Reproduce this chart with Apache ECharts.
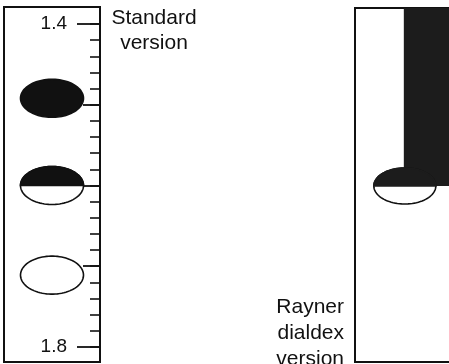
<!DOCTYPE html>
<html><head><meta charset="utf-8">
<script src="https://cdn.jsdelivr.net/npm/echarts@6/dist/echarts.min.js"></script>
<style>html,body{margin:0;padding:0;background:#fff;overflow:hidden}#c{width:449px;height:364px}</style>
</head><body><div id="c"></div>
<script>
// ---- data ----
const minorTicks = [1.40,1.42,1.44,1.46,1.48,1.50,1.52,1.54,1.56,1.58,1.60,1.62,1.64,1.66,1.68,1.70,1.72,1.74,1.76,1.78,1.80];
const majorTicks = [1.5,1.6,1.7];
const endTicks = [1.4,1.8];
const tickLabels = ['1.4','1.8'];
const standardReadings = [1.492, 1.6, 1.711];
const standardKinds = ['full','top','none'];
const dialdexReadings = [1.6];
const panelLabels = ['Standard\nversion', 'Rayner\ndialdex\nversion'];

// ---- layout ----
const yMin = 1.37895, yMax = 1.81858;
const FONT = 'Liberation Sans, Arial, Helvetica, sans-serif';
const leftGrid = {left:4, right:349, top:7, bottom:2};

function ellipsePts(cx, cy, rx, ry, t0, t1, n){
  const pts = [];
  for (let i = 0; i <= n; i++){
    const t = t0 + (t1 - t0) * i / n;
    pts.push([cx + rx * Math.cos(t), cy + ry * Math.sin(t)]);
  }
  return pts;
}

function yAxisBase(grid){
  return {type:'value', gridIndex:grid, min:yMin, max:yMax, inverse:true, position:'right',
    axisLine:{show:false, onZero:false}, splitLine:{show:false}, axisLabel:{show:false}, axisTick:{show:false}};
}

const chart = echarts.init(document.getElementById('c'), null, {renderer:'canvas'});
chart.setOption({
  animation:false,
  backgroundColor:'#fff',
  grid:[
    Object.assign({show:true, borderColor:'#111', borderWidth:2, backgroundColor:'transparent'}, leftGrid),
    {left:355, right:0, top:8, bottom:2, show:false},
    Object.assign({show:false}, leftGrid),
    Object.assign({show:false}, leftGrid)
  ],
  xAxis:[0,1,2,3].map(g => ({type:'value', gridIndex:g, min:0, max:1, show:false, axisLine:{onZero:false}})),
  yAxis:[
    Object.assign(yAxisBase(0), {axisTick:{show:true, inside:true, length:10, customValues:minorTicks, lineStyle:{color:'#111', width:1.6}}}),
    yAxisBase(1),
    Object.assign(yAxisBase(2), {axisTick:{show:true, inside:true, length:17, customValues:majorTicks, lineStyle:{color:'#111', width:1.8}}}),
    Object.assign(yAxisBase(3), {axisTick:{show:true, inside:true, length:23, customValues:endTicks, lineStyle:{color:'#111', width:1.8}},
      axisLabel:{show:true, inside:true, margin:33, customValues:endTicks,
        formatter:function(v){ const i = endTicks.indexOf(+v.toFixed(2)); return i >= 0 ? tickLabels[i] : ''; },
        color:'#111', fontSize:19, fontFamily:FONT}})
  ],
  series:[
    {
      type:'custom', xAxisIndex:0, yAxisIndex:0, clip:false,
      data: standardReadings.map((v,i) => [0.5, v, standardKinds[i] === 'full' ? 0 : standardKinds[i] === 'top' ? 1 : 2]),
      renderItem:function(params, api){
        const c = api.coord([api.value(0), api.value(1)]);
        const kind = api.value(2);
        const rx = 31.5, ry = 19;
        const children = [];
        children.push({type:'polygon', shape:{points:ellipsePts(c[0], c[1], rx, ry, 0, Math.PI*2, 90)},
          style:{fill: kind === 0 ? '#111' : '#fff', stroke:'#111', lineWidth:1.6}});
        if (kind === 1){
          children.push({type:'polygon', shape:{points:ellipsePts(c[0], c[1], rx, ry, Math.PI, Math.PI*2, 45)},
            style:{fill:'#111', stroke:'#111', lineWidth:1.6}});
        }
        return {type:'group', children};
      }
    },
    {
      type:'custom', xAxisIndex:1, yAxisIndex:1, clip:false,
      data: dialdexReadings.map(v => [0.53, v]),
      renderItem:function(params, api){
        const c = api.coord([api.value(0), api.value(1)]);
        const cs = params.coordSys;
        const rx = 31, ry = 18;
        const right = cs.x + cs.width + 10;
        return {type:'group', children:[
          {type:'polyline', shape:{points:[[right, cs.y], [cs.x, cs.y], [cs.x, cs.y + cs.height], [right, cs.y + cs.height]]},
            style:{fill:null, stroke:'#111', lineWidth:2}},
          {type:'rect', shape:{x:c[0]-1, y:cs.y, width:right - c[0] + 1, height:c[1]-cs.y}, style:{fill:'#1c1c1c'}},
          {type:'polygon', shape:{points:ellipsePts(c[0], c[1], rx, ry, 0, Math.PI*2, 90)}, style:{fill:'#fff', stroke:'#111', lineWidth:1.6}},
          {type:'polygon', shape:{points:ellipsePts(c[0], c[1], rx, ry, Math.PI, Math.PI*2, 45)}, style:{fill:'#1c1c1c', stroke:'#1c1c1c', lineWidth:1.6}}
        ]};
      }
    }
  ],
  graphic:[
    {type:'text', x:154, y:6, style:{text:panelLabels[0], fill:'#111', font:'21px ' + FONT, textAlign:'center', lineHeight:25}},
    {type:'text', x:344, y:294, style:{text:panelLabels[1], fill:'#111', font:'21px ' + FONT, textAlign:'right', lineHeight:26}}
  ]
});
</script>
</body></html>
